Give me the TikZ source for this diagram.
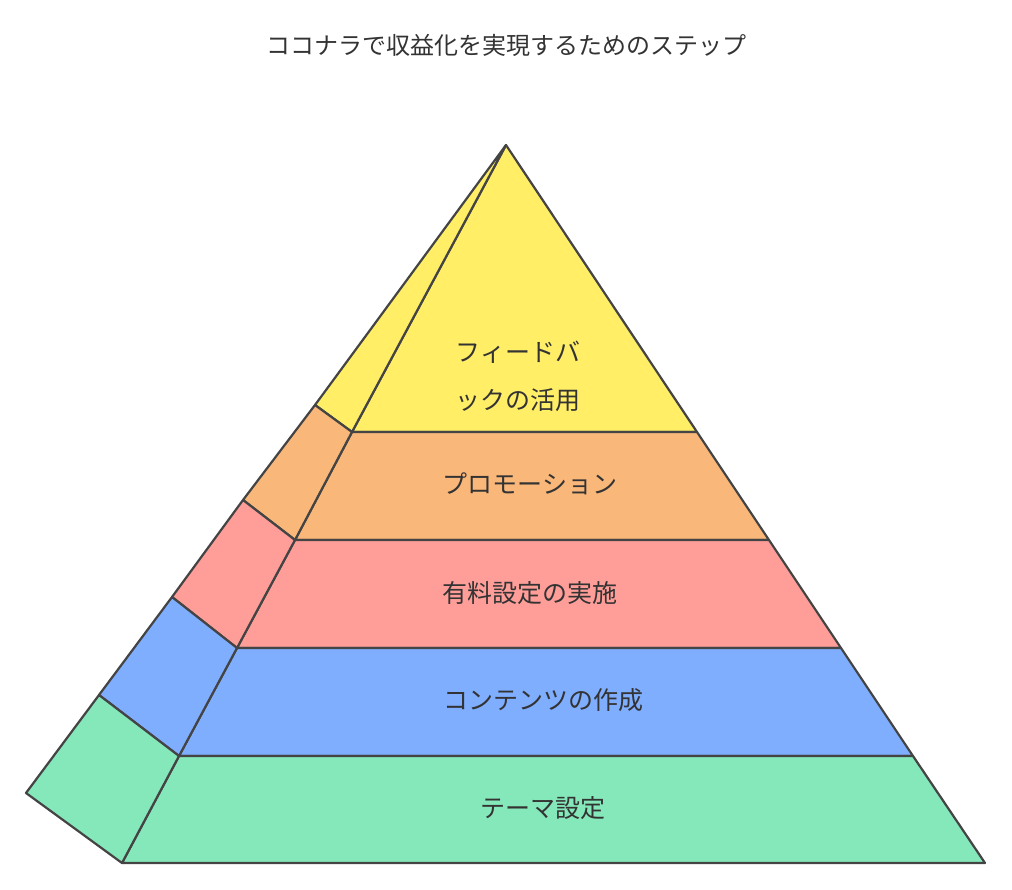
\documentclass[tikz,border=0pt]{standalone}
\usepackage{fontspec}
\newfontfamily\jp{Noto Sans CJK JP}
\definecolor{cy}{HTML}{FFEE66}
\definecolor{co}{HTML}{F9B77A}
\definecolor{cp}{HTML}{FF9E99}
\definecolor{cb}{HTML}{7FAEFF}
\definecolor{cg}{HTML}{85E8BA}
\definecolor{ln}{HTML}{444444}
\definecolor{tx}{HTML}{333333}
\begin{document}
\begin{tikzpicture}[x=1pt,y=-1pt,
  face/.style={draw=ln,line width=2.2pt,line join=round},
  lbl/.style={font=\jp\fontsize{25}{36}\selectfont,text=tx,align=center}]
\useasboundingbox (0,0) rectangle (1012,890);
\coordinate (A) at (506,145);
\coordinate (L1) at (352,432); \coordinate (R1) at (697,432); \coordinate (B1) at (315,405);
\coordinate (L2) at (295,540); \coordinate (R2) at (769,540); \coordinate (B2) at (243,500);
\coordinate (L3) at (237,648); \coordinate (R3) at (841,648); \coordinate (B3) at (172,597);
\coordinate (L4) at (179,756); \coordinate (R4) at (913,756); \coordinate (B4) at (99,695);
\coordinate (L5) at (122,863); \coordinate (R5) at (985,863); \coordinate (B5) at (26,793);
\filldraw[face,fill=cy] (A)--(L1)--(R1)--cycle;
\filldraw[face,fill=cy] (A)--(B1)--(L1)--cycle;
\filldraw[face,fill=co] (L1)--(R1)--(R2)--(L2)--cycle;
\filldraw[face,fill=co] (B1)--(B2)--(L2)--(L1)--cycle;
\filldraw[face,fill=cp] (L2)--(R2)--(R3)--(L3)--cycle;
\filldraw[face,fill=cp] (B2)--(B3)--(L3)--(L2)--cycle;
\filldraw[face,fill=cb] (L3)--(R3)--(R4)--(L4)--cycle;
\filldraw[face,fill=cb] (B3)--(B4)--(L4)--(L3)--cycle;
\filldraw[face,fill=cg] (L4)--(R4)--(R5)--(L5)--cycle;
\filldraw[face,fill=cg] (B4)--(B5)--(L5)--(L4)--cycle;
\node[lbl,font=\jp\fontsize{24}{36}\selectfont] (t) at (506,45) {ココナラで収益化を実現するためのステップ};
\node[lbl,font=\jp\fontsize{25}{48}\selectfont] (n1) at (518,376) {フィードバ\\ックの活用};
\node[lbl] (n2) at (530,484) {プロモーション};
\node[lbl] (n3) at (530,593) {有料設定の実施};
\node[lbl] (n4) at (543,700) {コンテンツの作成};
\node[lbl] (n5) at (543,808) {テーマ設定};
\end{tikzpicture}
\end{document}
